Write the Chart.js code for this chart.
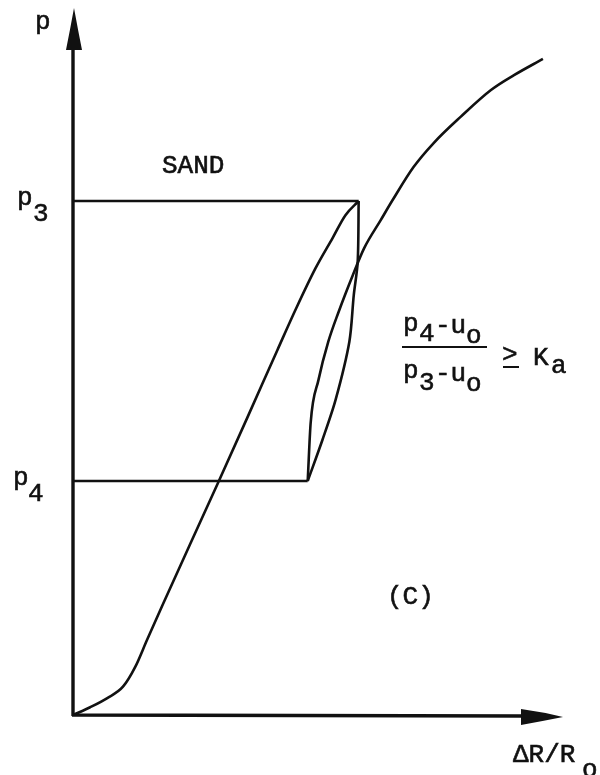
<!DOCTYPE html>
<html>
<head>
<meta charset="utf-8">
<title>Pressuremeter loop - sand</title>
<script src="https://cdn.jsdelivr.net/npm/chart.js@4.4.1/dist/chart.umd.min.js"></script>
<style>
  html, body { margin: 0; padding: 0; background: #fff; }
  canvas { display: block; }
</style>
</head>
<body>
<canvas id="sandChart" width="600" height="775"></canvas>
<script>
// Pressure levels: p3 = reversal, p4 = end of unloading (in % of axis height)
const P3 = 72.7;
const P4 = 33.1;

// Initial loading curve, origin -> p3
const loadX = [0, 3.5, 7.0, 10.2, 12.7, 15.1, 18.3, 23.8, 29.7, 35.6, 41.7, 45.6, 49.5, 53.0, 55.6, 58.3];
const loadP = [0, 1.1, 2.4, 4.0, 6.8, 10.6, 15.6, 24.0, 33.0, 42.1, 51.6, 57.6, 63.2, 67.5, 70.7, 72.7];

// Unloading branch, p3 -> p4
const unloadX = [58.3, 58.1, 57.3, 56.4, 53.6, 50.9, 47.9];
const unloadP = [72.7, 64.1, 59.4, 52.8, 44.6, 38.9, 33.1];

// Reloading curve from p4, running on past p3
const reloadX = [47.9, 48.5, 50.1, 52.1, 54.2, 57.1, 59.4, 62.8, 65.2, 69.5, 73.6, 79.1, 85.3, 90.0, 95.9];
const reloadP = [33.1, 41.3, 47.4, 52.8, 57.0, 62.2, 66.0, 70.0, 72.8, 77.5, 80.9, 84.6, 88.4, 90.5, 92.8];

const INK = '#111';
const FONT = '26px "Liberation Mono", "DejaVu Sans Mono", monospace';

function toPoints(xs, ys) {
    return xs.map((x, i) => ({ x: x, y: ys[i] }));
}

function curve(xs, ys, mode) {
    return {
        data: toPoints(xs, ys),
        showLine: true,
        borderColor: INK,
        borderWidth: 2.6,
        pointRadius: 0,
        tension: mode === 'straight' ? 0 : 0.3,
        cubicInterpolationMode: mode === 'smooth' ? 'monotone' : 'default',
        fill: false
    };
}

// Axes with arrow heads, drawn under the curves
const axesPlugin = {
    id: 'arrowAxes',
    beforeDatasetsDraw(chart) {
        const ctx = chart.ctx;
        const a = chart.chartArea;
        const x0 = a.left, y0 = a.bottom;
        ctx.save();
        ctx.strokeStyle = INK;
        ctx.fillStyle = INK;
        ctx.lineWidth = 3.4;
        ctx.lineCap = 'butt';

        ctx.beginPath();
        ctx.moveTo(x0, y0 + 1);
        ctx.lineTo(x0, a.top + 40);
        ctx.moveTo(x0 - 1, y0);
        ctx.lineTo(a.right - 40, y0 + 1);
        ctx.stroke();

        // vertical arrow head
        ctx.beginPath();
        ctx.moveTo(x0 + 1, a.top);
        ctx.quadraticCurveTo(x0 + 5, a.top + 22, x0 + 9, a.top + 42);
        ctx.lineTo(x0 - 7, a.top + 42);
        ctx.quadraticCurveTo(x0 - 3, a.top + 22, x0 + 1, a.top);
        ctx.closePath();
        ctx.fill();

        // horizontal arrow head
        ctx.beginPath();
        ctx.moveTo(a.right, y0 + 2);
        ctx.quadraticCurveTo(a.right - 20, y0 - 3, a.right - 42, y0 - 6);
        ctx.lineTo(a.right - 42, y0 + 10);
        ctx.quadraticCurveTo(a.right - 20, y0 + 6, a.right, y0 + 2);
        ctx.closePath();
        ctx.fill();
        ctx.restore();
    }
};

// Axis names, level labels and annotations
const labelPlugin = {
    id: 'sandLabels',
    afterDatasetsDraw(chart) {
        const ctx = chart.ctx;
        const y = chart.scales.y;
        const y3 = y.getPixelForValue(P3);
        const y4 = y.getPixelForValue(P4);
        ctx.save();
        ctx.fillStyle = INK;
        ctx.strokeStyle = INK;
        ctx.font = FONT;
        ctx.textBaseline = 'alphabetic';
        ctx.textAlign = 'left';
        // a light outline thickens the strokes a little
        ctx.lineWidth = 0.6;

        const put = (s, x, yy) => {
            ctx.fillText(s, x, yy);
            ctx.strokeText(s, x, yy);
        };

        put('p', 35, 29);

        put('p', 17, y3 + 4);
        put('3', 33, y3 + 20);
        put('p', 13, y4 + 4);
        put('4', 28, y4 + 20);

        put('SAND', 162, 173);

        // (p4 - uo) / (p3 - uo) >= Ka
        put('p', 403, 331);
        put('4', 419, 341);
        put('-u', 435, 333);
        put('o', 466, 343);
        put('p', 403, 378);
        put('3', 419, 390);
        put('-u', 435, 381);
        put('o', 466, 391);
        put('>', 502, 362);
        put('K', 533, 365);
        put('a', 551, 373);

        ctx.lineWidth = 2;
        ctx.beginPath();
        ctx.moveTo(402, 347);
        ctx.lineTo(487, 347);
        ctx.moveTo(503, 367);
        ctx.lineTo(519, 367);
        ctx.stroke();

        ctx.lineWidth = 0.6;
        put('(C)', 387, 604);

        put('\u0394R/R', 513, 762);
        put('o', 582, 777);
        ctx.restore();
    }
};

new Chart(document.getElementById('sandChart').getContext('2d'), {
    type: 'scatter',
    data: {
        datasets: [
            curve(loadX, loadP, 'smooth'),
            curve([0, 58.3], [P3, P3], 'straight'),
            curve(unloadX, unloadP, 'bezier'),
            curve([47.9, 0], [P4, P4], 'straight'),
            curve(reloadX, reloadP, 'smooth')
        ]
    },
    options: {
        responsive: false,
        animation: false,
        layout: { padding: { left: 73, right: 37, top: 8, bottom: 60 } },
        scales: {
            x: { type: 'linear', min: 0, max: 100, display: false },
            y: { type: 'linear', min: 0, max: 100, display: false }
        },
        plugins: {
            legend: { display: false },
            tooltip: { enabled: false }
        }
    },
    plugins: [axesPlugin, labelPlugin]
});
</script>
</body>
</html>
